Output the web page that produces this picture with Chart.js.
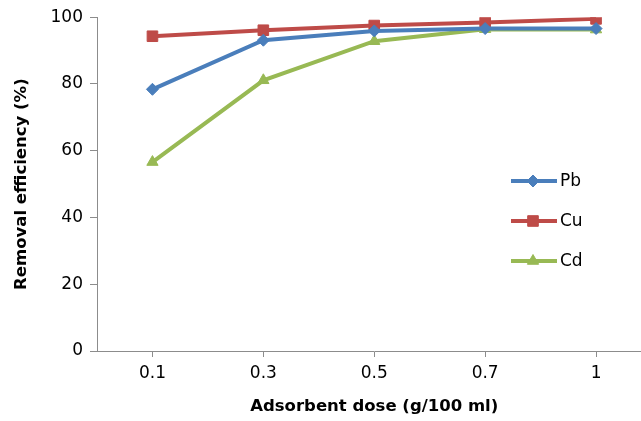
<!DOCTYPE html>
<html>
<head>
<meta charset="utf-8">
<script src="https://cdn.jsdelivr.net/npm/chart.js@4/dist/chart.umd.min.js"></script>
<style>
  html, body { margin: 0; padding: 0; background: #fff; overflow: hidden; }
  #wrap { width: 660px; height: 421px; position: relative; }
</style>
</head>
<body>
<div id="wrap"><canvas id="removalChart"></canvas></div>
<script>
// Data
const doses = ['0.1', '0.3', '0.5', '0.7', '1'];
const pbValues = [78.4, 93.1, 95.9, 96.6, 96.6];
const cuValues = [94.3, 96.1, 97.5, 98.4, 99.5];
const cdValues = [56.6, 81.1, 92.8, 96.4, 96.3];
const yTicks = [0, 20, 40, 60, 80, 100];

const FONT = "'DejaVu Sans', sans-serif";
const AXIS_GREY = '#8c8c8c';

// Legend drawn inside the plot, like the original
const insideLegend = {
    id: 'insideLegend',
    afterDraw(chart) {
        const ctx = chart.ctx;
        const rows = [181, 221, 261];
        chart.data.datasets.forEach((ds, i) => {
            const y = rows[i];
            ctx.save();
            ctx.strokeStyle = ds.borderColor;
            ctx.fillStyle = ds.backgroundColor;
            ctx.lineWidth = 4;
            ctx.beginPath();
            ctx.moveTo(511, y);
            ctx.lineTo(557, y);
            ctx.stroke();
            ctx.lineWidth = 1;
            Chart.helpers.drawPoint(ctx, {
                pointStyle: ds.pointStyle,
                radius: ds.pointRadius,
                borderWidth: 1
            }, 533, y);
            ctx.fillStyle = '#000';
            ctx.font = '17px ' + FONT;
            ctx.textBaseline = 'middle';
            ctx.fillText(ds.label, 560, y + 1);
            ctx.restore();
        });
    }
};

const ctx = document.getElementById('removalChart').getContext('2d');
const removalChart = new Chart(ctx, {
    type: 'line',
    data: {
        labels: doses,
        datasets: [
            { label: 'Pb', data: pbValues, borderColor: '#4a7ebb', backgroundColor: '#4a7ebb',
              pointStyle: 'rectRot', pointRadius: 6 },
            { label: 'Cu', data: cuValues, borderColor: '#be4b48', backgroundColor: '#be4b48',
              pointStyle: 'rect', pointRadius: 7.5 },
            { label: 'Cd', data: cdValues, borderColor: '#98b954', backgroundColor: '#98b954',
              pointStyle: 'triangle', pointRadius: 6.5 }
        ]
    },
    options: {
        responsive: true,
        maintainAspectRatio: false,
        animation: false,
        elements: {
            line: { borderWidth: 4, tension: 0 },
            point: { borderWidth: 1, hoverRadius: 6 }
        },
        layout: { padding: { top: 17, right: 3, left: 0, bottom: 0 } },
        plugins: {
            legend: { display: false },
            tooltip: { enabled: false }
        },
        scales: {
            x: {
                offset: true,
                grid: { drawOnChartArea: false, offset: false, color: AXIS_GREY, tickLength: 6 },
                border: { color: AXIS_GREY, width: 1 },
                ticks: { color: '#000', font: { size: 17, family: FONT }, padding: 6, maxRotation: 0 },
                title: { display: true, text: 'Adsorbent dose (g/100 ml)', color: '#000',
                         font: { size: 16.5, weight: 'bold', family: FONT }, padding: { top: 5 } },
                afterFit(scale) { scale.height = 70; }
            },
            y: {
                min: 0,
                max: 100,
                afterBuildTicks(scale) { scale.ticks = yTicks.map(v => ({ value: v })); },
                grid: { drawOnChartArea: false, color: AXIS_GREY, tickLength: 7 },
                border: { color: AXIS_GREY, width: 1 },
                ticks: { color: '#000', font: { size: 17, family: FONT }, padding: 7 },
                title: { display: true, text: 'Removal efficiency (%)', color: '#000',
                         font: { size: 16.5, weight: 'bold', family: FONT }, padding: { top: 12, bottom: 4 } },
                afterFit(scale) { scale.width = 97; }
            }
        }
    },
    plugins: [insideLegend]
});
</script>
</body>
</html>
